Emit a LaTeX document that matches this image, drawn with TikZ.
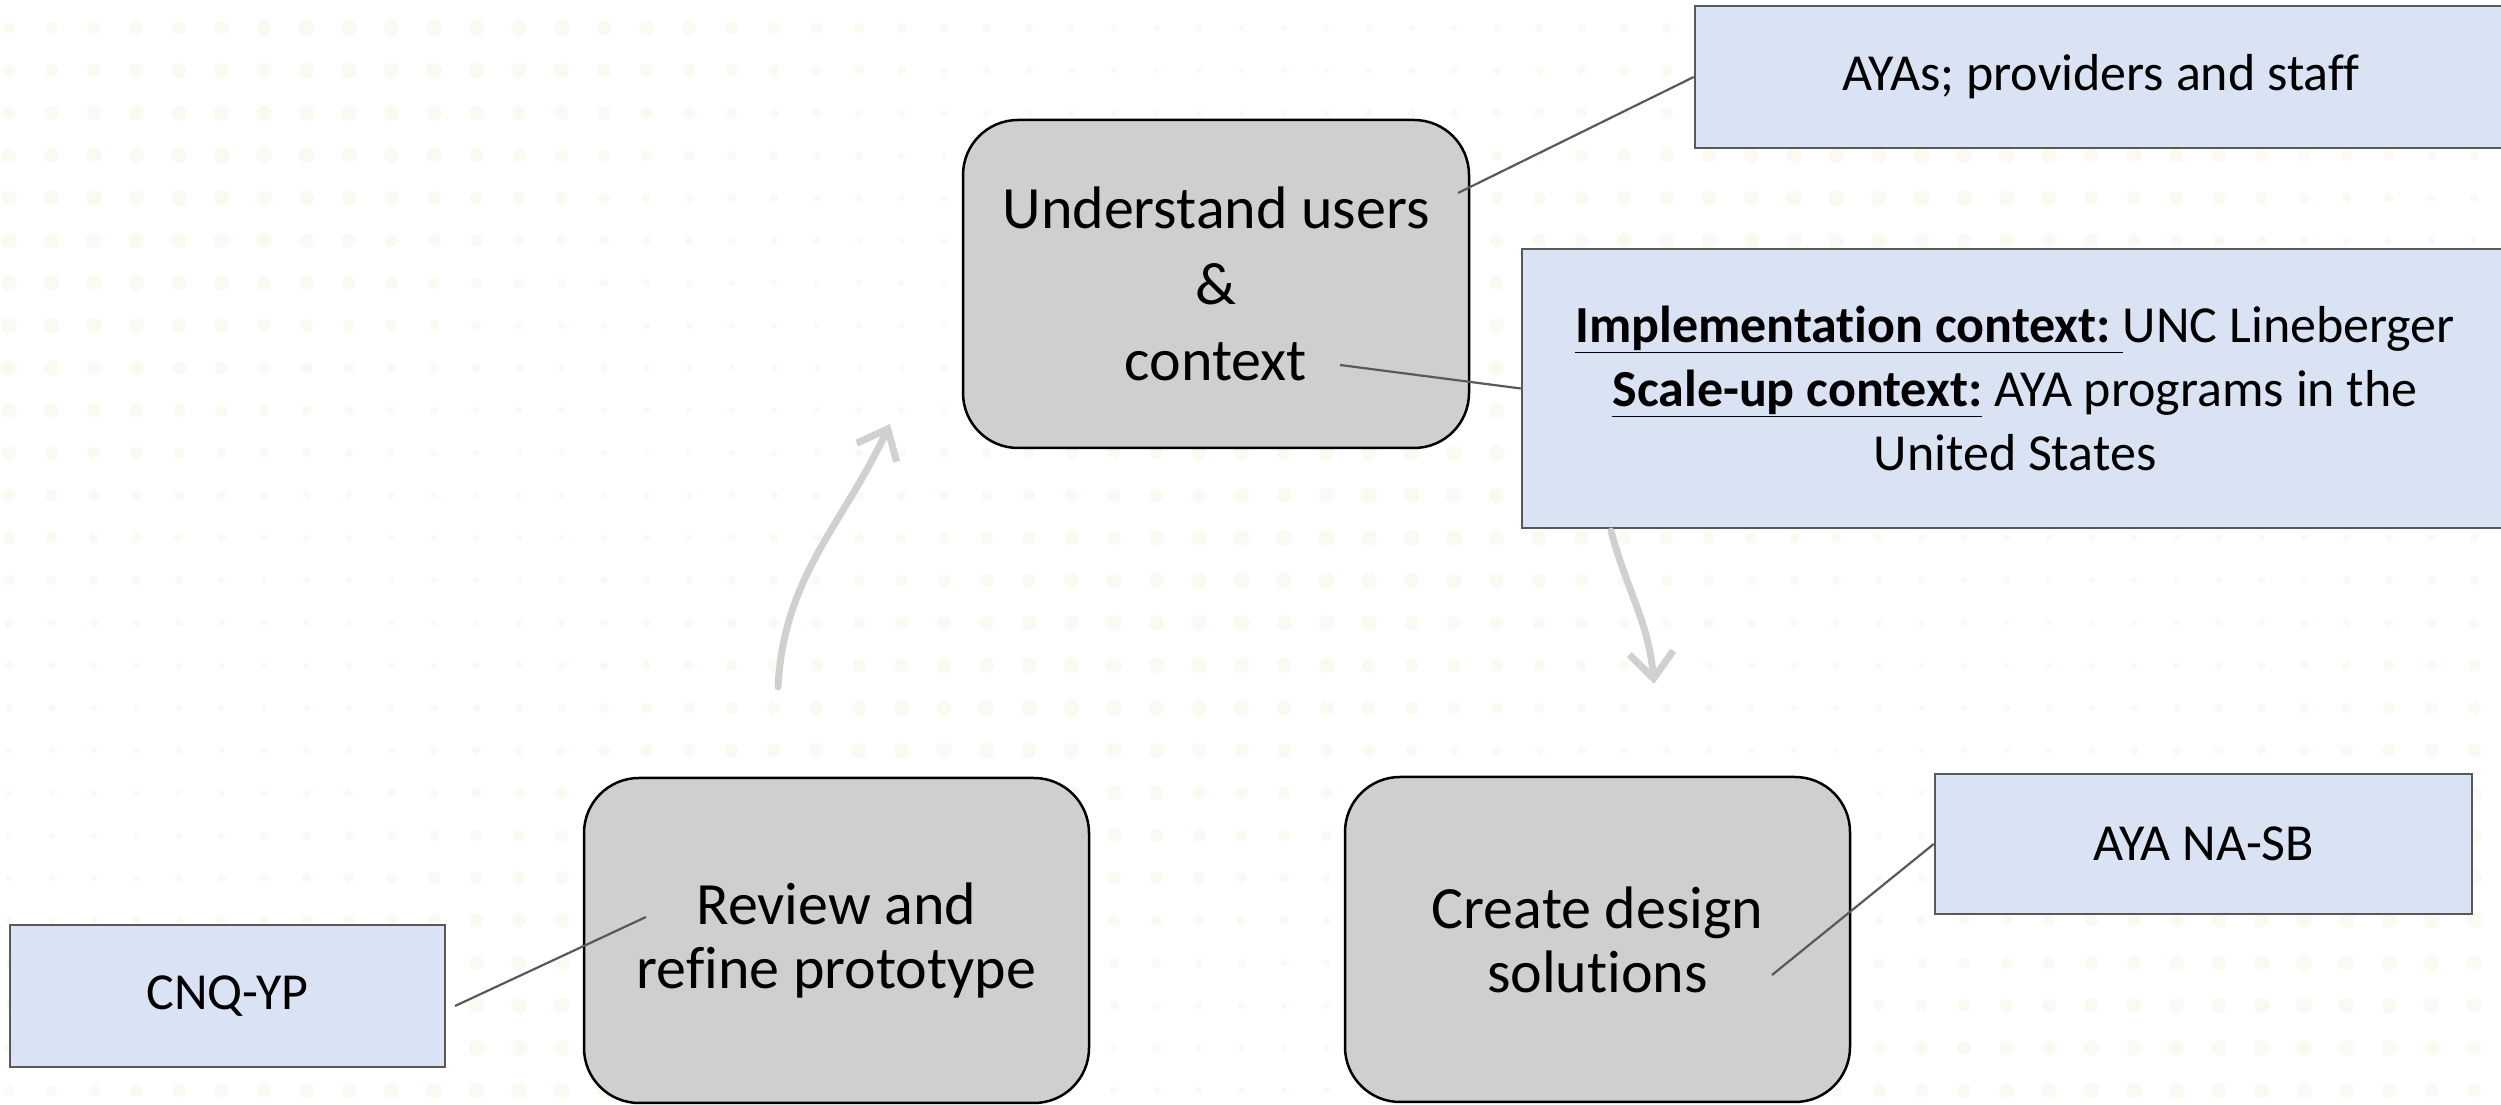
\documentclass[tikz,border=0pt]{standalone}
\usepackage{fontspec}
\setmainfont{Carlito}[Ligatures=NoCommon]
\usetikzlibrary{arrows.meta,calc}
\definecolor{boxgray}{HTML}{D0CECE}
\definecolor{boxblue}{HTML}{DAE3F3}
\definecolor{edgegray}{HTML}{595959}
\definecolor{flowgray}{HTML}{D0D0D0}
\definecolor{dotcol}{HTML}{FAFAF3}

\begin{document}
\begin{tikzpicture}[x=1pt,y=1pt,
  stage/.style={draw=black, line width=2.5pt, fill=boxgray, rounded corners=55pt,
    minimum width=505pt, minimum height=325pt, align=center, inner sep=0pt,
    font=\fontsize{60}{64}\selectfont},
  note/.style={draw=edgegray, line width=2.5pt, fill=boxblue, align=center, inner sep=0pt,
    font=\fontsize{52}{64}\selectfont},
  link/.style={draw=edgegray, line width=2.2pt},
  flow/.style={draw=flowgray, line width=7pt, line cap=round,
    -{Straight Barb[length=26pt,width=44pt]}}
]
\useasboundingbox (0,0) rectangle (2501,1105);
\fill[white] (0,0) rectangle (2501,1105);

% faint halftone dot texture
\foreach \i in {0,...,58}{
  \foreach \j in {0,...,25}{
    \pgfmathsetmacro\rr{3+5*(0.5+0.5*sin(9*\i+14*\j))}
    \fill[dotcol] (9+42.5*\i,1077-42.5*\j) circle[radius=\rr];
  }
}

% process stages
\node[stage, minimum width=506pt, minimum height=328pt, font=\fontsize{60}{76}\selectfont]
  (und) at (1216,821) {Understand users\\\&\\context};
\node[stage] (rev) at (836.5,164.5) {Review and\\refine prototype};
\node[stage] (cre) at (1597.5,165.5) {Create design\\solutions};

% annotation boxes
\node[note, minimum width=812pt, minimum height=142pt] (ayas) at (2101,1028)
  {AYAs; providers and staff};
\node[note, minimum width=986pt, minimum height=279pt] (impl) at (2015,716.5)
  {\underline{\textbf{Implementation context:\ }}UNC Lineberger\\
   \underline{\textbf{Scale-up context:}} AYA programs in the\\
   United States};
\node[note, minimum width=435pt, minimum height=142pt] (cnq) at (227.5,109) {CNQ-YP};
\node[note, minimum width=537pt, minimum height=140pt] (nasb) at (2203.5,261) {AYA NA-SB};

% cycle arrows
\coordinate (upFrom) at (778,418);
\coordinate (upTo) at (890,681);
\draw[flow] (upFrom) to[out=87,in=245] (upTo);
\coordinate (dnFrom) at (1611,574);
\coordinate (dnTo) at (1654,421);
\draw[flow] (dnFrom) to[out=-75,in=95] (dnTo);

% callout leaders
\coordinate (uTail) at (1458,912);
\coordinate (cTail) at (1340,740);
\coordinate (rTail) at (646,188);
\coordinate (qTail) at (455,99);
\coordinate (dTail) at (1772,130);
\draw[link] (uTail) -- (ayas.west);
\draw[link] (cTail) -- (impl.west);
\draw[link] (qTail) -- (rTail);
\draw[link] (dTail) -- (nasb.west);
\end{tikzpicture}
\end{document}
